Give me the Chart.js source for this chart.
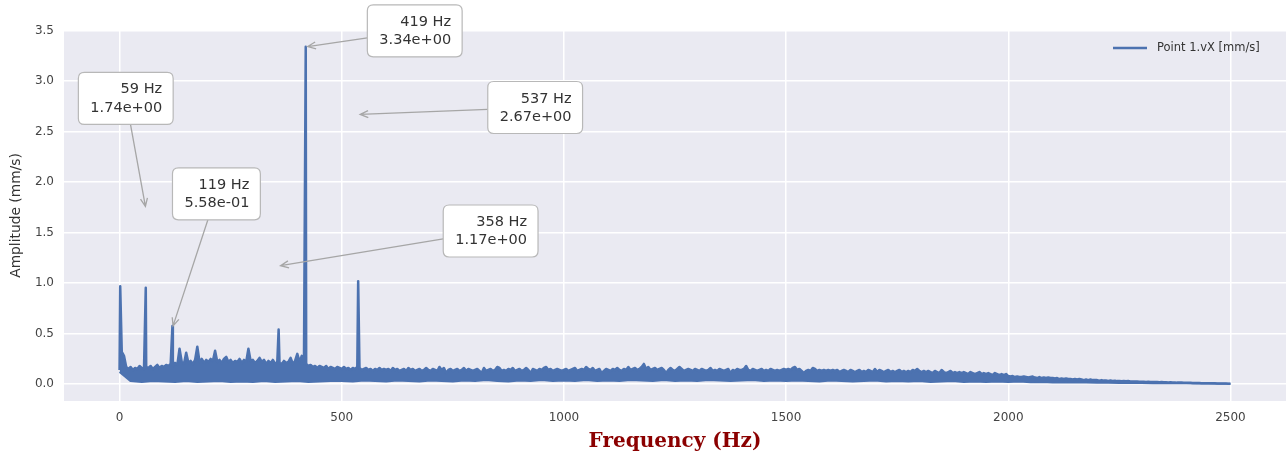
<!DOCTYPE html>
<html>
<head>
<meta charset="utf-8">
<script src="https://cdn.jsdelivr.net/npm/chart.js@4.4.1/dist/chart.umd.min.js"></script>
<style>
  html, body { margin: 0; padding: 0; background: #fff; }
</style>
</head>
<body>
<canvas id="spectrum" width="1286" height="457"></canvas>
<script>
// top edge of the spectrum band, every 5 Hz from 0 to 2500 Hz
const upperStep = 5;
const upperAmps = [
  // 0 - 95 Hz
  0.14, 0.32, 0.28, 0.17, 0.15, 0.17, 0.14, 0.16, 0.15, 0.18, 0.16, 0.15, 0.17, 0.16, 0.18, 0.15, 0.17, 0.19, 0.16, 0.18,
  // 100 - 195
  0.17, 0.19, 0.18, 0.20, 0.18, 0.21, 0.19, 0.35, 0.22, 0.20, 0.31, 0.21, 0.23, 0.20, 0.24, 0.37, 0.22, 0.25, 0.21, 0.24,
  // 200 - 295
  0.22, 0.25, 0.23, 0.33, 0.22, 0.24, 0.21, 0.25, 0.27, 0.22, 0.24, 0.21, 0.23, 0.22, 0.25, 0.21, 0.24, 0.22, 0.35, 0.23,
  // 300 - 395
  0.24, 0.21, 0.23, 0.26, 0.22, 0.24, 0.20, 0.23, 0.21, 0.24, 0.20, 0.22, 0.21, 0.20, 0.23, 0.21, 0.22, 0.26, 0.20, 0.23,
  // 400 - 495
  0.30, 0.22, 0.28, 0.21, 0.20, 0.18, 0.19, 0.17, 0.18, 0.16, 0.18, 0.17, 0.16, 0.18, 0.15, 0.17, 0.16, 0.15, 0.17, 0.16,
  // 500 - 595
  0.15, 0.17, 0.15, 0.16, 0.14, 0.16, 0.15, 0.17, 0.16, 0.14, 0.15, 0.16, 0.14, 0.15, 0.13, 0.15, 0.14, 0.16, 0.14, 0.15,
  // 600 - 695
  0.14, 0.15, 0.13, 0.16, 0.14, 0.15, 0.13, 0.14, 0.15, 0.13, 0.16, 0.14, 0.15, 0.13, 0.14, 0.15, 0.13, 0.14, 0.16, 0.14,
  // 700 - 795
  0.13, 0.15, 0.14, 0.13, 0.17, 0.14, 0.16, 0.11, 0.14, 0.15, 0.13, 0.14, 0.15, 0.13, 0.14, 0.16, 0.13, 0.15, 0.14, 0.13,
  // 800 - 895
  0.14, 0.15, 0.13, 0.11, 0.16, 0.13, 0.14, 0.15, 0.13, 0.14, 0.17, 0.16, 0.13, 0.14, 0.13, 0.15, 0.14, 0.16, 0.13, 0.14,
  // 900 - 995
  0.15, 0.13, 0.14, 0.16, 0.14, 0.11, 0.15, 0.14, 0.13, 0.15, 0.14, 0.16, 0.17, 0.14, 0.15, 0.13, 0.14, 0.15, 0.14, 0.13,
  // 1000 - 1095
  0.14, 0.15, 0.13, 0.14, 0.15, 0.16, 0.13, 0.14, 0.15, 0.14, 0.17, 0.15, 0.14, 0.16, 0.13, 0.14, 0.15, 0.11, 0.13, 0.15,
  // 1100 - 1195
  0.14, 0.13, 0.15, 0.14, 0.16, 0.14, 0.13, 0.15, 0.14, 0.17, 0.14, 0.15, 0.16, 0.14, 0.15, 0.17, 0.20, 0.15, 0.17, 0.14,
  // 1200 - 1295
  0.15, 0.16, 0.14, 0.15, 0.16, 0.14, 0.11, 0.14, 0.16, 0.14, 0.13, 0.15, 0.17, 0.15, 0.13, 0.14, 0.15, 0.14, 0.13, 0.15,
  // 1300 - 1395
  0.14, 0.13, 0.15, 0.14, 0.13, 0.14, 0.16, 0.13, 0.14, 0.13, 0.15, 0.14, 0.13, 0.14, 0.15, 0.11, 0.14, 0.13, 0.15, 0.14,
  // 1400 - 1495
  0.14, 0.15, 0.18, 0.14, 0.13, 0.15, 0.14, 0.13, 0.14, 0.15, 0.13, 0.14, 0.13, 0.15, 0.14, 0.13, 0.14, 0.13, 0.14, 0.15,
  // 1500 - 1595
  0.14, 0.15, 0.14, 0.16, 0.17, 0.14, 0.15, 0.13, 0.11, 0.13, 0.14, 0.13, 0.16, 0.15, 0.13, 0.14, 0.13, 0.14, 0.13, 0.14,
  // 1600 - 1695
  0.13, 0.14, 0.13, 0.14, 0.12, 0.13, 0.14, 0.13, 0.12, 0.14, 0.13, 0.12, 0.13, 0.14, 0.12, 0.13, 0.12, 0.14, 0.13, 0.12,
  // 1700 - 1795
  0.15, 0.12, 0.14, 0.13, 0.12, 0.13, 0.14, 0.12, 0.13, 0.12, 0.13, 0.14, 0.12, 0.13, 0.12, 0.13, 0.12, 0.14, 0.13, 0.15,
  // 1800 - 1895
  0.13, 0.12, 0.13, 0.12, 0.13, 0.12, 0.11, 0.13, 0.12, 0.11, 0.14, 0.12, 0.11, 0.12, 0.13, 0.11, 0.12, 0.11, 0.12, 0.11,
  // 1900 - 1995
  0.12, 0.11, 0.10, 0.12, 0.11, 0.10, 0.11, 0.12, 0.10, 0.11, 0.10, 0.11, 0.10, 0.09, 0.11, 0.10, 0.09, 0.10, 0.09, 0.10,
  // 2000 - 2095
  0.08, 0.075, 0.08, 0.07, 0.075, 0.07, 0.07, 0.075, 0.07, 0.065, 0.07, 0.075, 0.065, 0.06, 0.07, 0.06, 0.065, 0.06, 0.065, 0.06,
  // 2100 - 2195
  0.06, 0.055, 0.06, 0.05, 0.055, 0.05, 0.055, 0.05, 0.05, 0.045, 0.05, 0.045, 0.05, 0.045, 0.04, 0.045, 0.04, 0.045, 0.04, 0.04,
  // 2200 - 2295
  0.04, 0.035, 0.04, 0.035, 0.035, 0.032, 0.035, 0.032, 0.034, 0.03, 0.032, 0.028, 0.03, 0.028, 0.03, 0.027, 0.027, 0.025, 0.026, 0.024,
  // 2300 - 2395
  0.024, 0.023, 0.022, 0.023, 0.021, 0.022, 0.02, 0.021, 0.019, 0.02, 0.018, 0.019, 0.017, 0.018, 0.016, 0.017, 0.015, 0.016, 0.015, 0.014,
  // 2400 - 2500
  0.014, 0.013, 0.013, 0.012, 0.012, 0.011, 0.011, 0.01, 0.01, 0.009, 0.009, 0.008, 0.008, 0.008, 0.007, 0.007, 0.006, 0.006, 0.006, 0.005, 0.005
];

// bottom edge of the band, every 25 Hz from 0 to 2500 Hz
const lowerStep = 25;
const lowerAmps = [
  0.12, 0.03, 0.02, 0.03, 0.025, 0.02, 0.03, 0.02, 0.025, 0.03,
  0.02, 0.025, 0.02, 0.03, 0.02, 0.025, 0.03, 0.02, 0.025, 0.03,
  0.03, 0.025, 0.035, 0.03, 0.025, 0.035, 0.03, 0.025, 0.035, 0.03,
  0.025, 0.035, 0.03, 0.04, 0.03, 0.025, 0.035, 0.03, 0.04, 0.03,
  0.035, 0.03, 0.04, 0.03, 0.035, 0.03, 0.04, 0.035, 0.03, 0.04,
  0.03, 0.035, 0.03, 0.04, 0.035, 0.03, 0.035, 0.04, 0.03, 0.035,
  0.03, 0.035, 0.03, 0.025, 0.035, 0.03, 0.025, 0.03, 0.035, 0.025,
  0.03, 0.025, 0.03, 0.02, 0.025, 0.03, 0.02, 0.025, 0.02, 0.025,
  0.02, 0.025, 0.018, 0.02, 0.016, 0.018, 0.015, 0.016, 0.014, 0.014,
  0.012, 0.012, 0.011, 0.01, 0.01, 0.009, 0.008, 0.007, 0.006, 0.005,
  0.004
];

// sharp peaks in the line
const peakFreqs = [1.5, 59, 119, 358, 419, 537];
const peakAmps = [0.97, 0.955, 0.575, 0.54, 3.34, 1.02];

// annotated peaks
const annFreqs = [59, 119, 419, 537, 358];
const annAmps = [1.74, 0.558, 3.34, 2.67, 1.17];
// box centre offset from the arrow tip, in pixels
const annOffsets = [[-20, -110], [44, -134], [109, -16], [177, -7], [212, -35]];

const xTicks = [0, 500, 1000, 1500, 2000, 2500];
const yTicks = [0.0, 0.5, 1.0, 1.5, 2.0, 2.5, 3.0, 3.5];
const seriesLabel = 'Point 1.vX [mm/s]';

const lineColor = '#4c72b0';
const sans = '"DejaVu Sans", sans-serif';

const upperPts = upperAmps.map((a, i) => ({ x: i * upperStep, y: a }))
  .concat(peakFreqs.map((f, i) => ({ x: f, y: peakAmps[i] })))
  .sort((a, b) => a.x - b.x);
const lowerPts = lowerAmps.map((a, i) => ({ x: i * lowerStep, y: a }));

function sci(v) {
  // matplotlib style 1.74e+00
  return v.toExponential(2).replace(/e([+-])(\d)$/, (m, s, d) => 'e' + s + '0' + d);
}

function roundRect(ctx, x, y, w, h, r) {
  ctx.beginPath();
  ctx.moveTo(x + r, y);
  ctx.lineTo(x + w - r, y);
  ctx.quadraticCurveTo(x + w, y, x + w, y + r);
  ctx.lineTo(x + w, y + h - r);
  ctx.quadraticCurveTo(x + w, y + h, x + w - r, y + h);
  ctx.lineTo(x + r, y + h);
  ctx.quadraticCurveTo(x, y + h, x, y + h - r);
  ctx.lineTo(x, y + r);
  ctx.quadraticCurveTo(x, y, x + r, y);
  ctx.closePath();
}

const background = {
  id: 'background',
  beforeDraw(chart) {
    const { ctx, chartArea: a } = chart;
    ctx.save();
    ctx.fillStyle = '#fff';
    ctx.fillRect(0, 0, chart.width, chart.height);
    ctx.fillStyle = '#eaeaf2';
    ctx.fillRect(a.left, a.top, a.right - a.left, a.bottom - a.top);
    ctx.restore();
  }
};

const annotations = {
  id: 'annotations',
  afterDraw(chart) {
    const { ctx } = chart;
    const xs = chart.scales.x, ys = chart.scales.y;
    ctx.save();
    ctx.font = '14.5px ' + sans;
    annFreqs.forEach((f, i) => {
      const lines = [f + ' Hz', sci(annAmps[i])];
      const tw = Math.max(...lines.map(s => ctx.measureText(s).width));
      const w = tw + 23, h = 52;
      const tx = xs.getPixelForValue(f), ty = ys.getPixelForValue(annAmps[i]);
      const cx = tx + annOffsets[i][0], cy = ty + annOffsets[i][1];
      const left = cx - w / 2, top = cy - h / 2;

      // arrow from box edge to the point
      const dx = tx - cx, dy = ty - cy;
      const t = Math.min(Math.abs((w / 2) / dx), Math.abs((h / 2) / dy));
      const sx = cx + dx * t, sy = cy + dy * t;
      const len = Math.hypot(tx - sx, ty - sy);
      const ux = (tx - sx) / len, uy = (ty - sy) / len;
      const ex = tx - ux * 2, ey = ty - uy * 2;
      ctx.strokeStyle = '#a6a6a6';
      ctx.lineWidth = 1.3;
      ctx.beginPath();
      ctx.moveTo(sx, sy);
      ctx.lineTo(ex, ey);
      ctx.moveTo(ex - ux * 8 - uy * 3.5, ey - uy * 8 + ux * 3.5);
      ctx.lineTo(ex, ey);
      ctx.lineTo(ex - ux * 8 + uy * 3.5, ey - uy * 8 - ux * 3.5);
      ctx.stroke();

      // text box
      roundRect(ctx, left, top, w, h, 6);
      ctx.fillStyle = '#fff';
      ctx.fill();
      ctx.strokeStyle = '#b8b8b8';
      ctx.lineWidth = 1.2;
      ctx.stroke();
      ctx.fillStyle = '#333';
      ctx.textAlign = 'right';
      ctx.textBaseline = 'alphabetic';
      ctx.fillText(lines[0], left + w - 11, top + 21);
      ctx.fillText(lines[1], left + w - 11, top + 39.5);
    });

    // legend, upper right
    const a = chart.chartArea;
    const lx = a.right - 173, ly = a.top + 18;
    ctx.strokeStyle = lineColor;
    ctx.lineWidth = 2.5;
    ctx.beginPath();
    ctx.moveTo(lx, ly);
    ctx.lineTo(lx + 34, ly);
    ctx.stroke();
    ctx.font = '11.5px ' + sans;
    ctx.fillStyle = '#333';
    ctx.textAlign = 'left';
    ctx.textBaseline = 'middle';
    ctx.fillText(seriesLabel, lx + 44, ly);
    ctx.restore();
  }
};

new Chart(document.getElementById('spectrum'), {
  type: 'line',
  data: {
    datasets: [{
      label: seriesLabel,
      data: upperPts,
      borderColor: lineColor,
      backgroundColor: lineColor,
      borderWidth: 2.5,
      borderJoinStyle: 'round',
      pointRadius: 0,
      tension: 0,
      fill: '+1'
    }, {
      label: 'floor',
      data: lowerPts,
      borderColor: lineColor,
      borderWidth: 2,
      borderJoinStyle: 'round',
      pointRadius: 0,
      tension: 0,
      fill: false
    }]
  },
  options: {
    responsive: false,
    animation: false,
    events: [],
    layout: { padding: { top: 30, right: 0, bottom: 0, left: 0 } },
    plugins: {
      legend: { display: false },
      tooltip: { enabled: false }
    },
    scales: {
      x: {
        type: 'linear',
        min: -125,
        max: 2625,
        afterBuildTicks: s => { s.ticks = xTicks.map(v => ({ value: v })); },
        afterFit: s => { s.height = 56; },
        grid: { color: '#fff', lineWidth: 1.5, drawTicks: false },
        border: { display: false },
        ticks: { padding: 10, color: '#444', font: { family: sans, size: 12 }, maxRotation: 0, autoSkip: false, callback: v => String(v) },
        title: {
          display: true,
          text: 'Frequency (Hz)',
          color: '#8b0000',
          font: { family: '"DejaVu Serif", serif', size: 20, weight: 'bold' },
          padding: { top: 0, bottom: 3 }
        }
      },
      y: {
        min: -0.167,
        max: 3.507,
        afterBuildTicks: s => { s.ticks = yTicks.map(v => ({ value: v })); },
        afterFit: s => { s.width = 64; },
        grid: { color: '#fff', lineWidth: 1.5, drawTicks: false },
        border: { display: false },
        ticks: { padding: 10, color: '#444', font: { family: sans, size: 12 }, callback: v => v.toFixed(1) },
        title: {
          display: true,
          text: 'Amplitude (mm/s)',
          color: '#333',
          font: { family: sans, size: 13.8 },
          padding: { top: 8.5, bottom: 0 }
        }
      }
    }
  },
  plugins: [background, annotations]
});
</script>
</body>
</html>
